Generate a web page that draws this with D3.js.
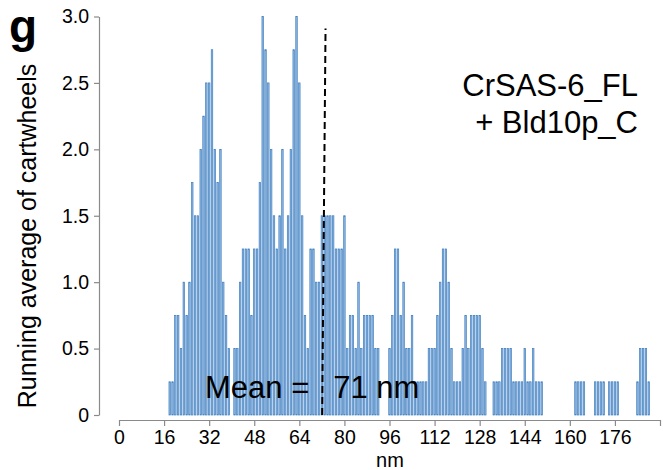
<!DOCTYPE html>
<html>
<head>
<meta charset="utf-8">
<script src="https://cdn.jsdelivr.net/npm/d3@7"></script>
<style>
  body { margin: 0; background: #fff; }
  svg { display: block; font-family: "Liberation Sans", Arial, sans-serif; }
</style>
</head>
<body>
<div id="chart"></div>
<script>
// running average of cartwheels per 1 nm bin, first bin at 18 nm
const binStart = 18;
const binValues = [
  0.25, 0.25, 0.75, 0.75, 0.5, 1.0, 0.75, 1.0, 1.75, 1.5,      // 18-27
  1.5, 2.0, 2.25, 2.5, 2.5, 2.75, 2.0, 1.75, 2.0, 1.0,         // 28-37
  0.75, 0.5, 0, 0.5, 0.5, 1.0, 1.25, 1.25, 1.25, 0.75,         // 38-47
  1.25, 1.25, 1.75, 3.0, 2.75, 2.5, 2.0, 1.5, 1.25, 1.5,       // 48-57
  2.0, 1.25, 1.5, 2.0, 2.75, 3.0, 2.5, 1.5, 0.75, 0.5,         // 58-67
  1.25, 1.25, 1.0, 1.0, 1.5, 1.5, 1.5, 1.5, 1.5, 1.25,         // 68-77
  1.25, 1.25, 1.5, 0.5, 0.75, 0.75, 0.5, 1.0, 0.5, 0.75,       // 78-87
  0.75, 0.75, 0.75, 0.5, 0.5, 0, 0, 0, 0.5, 0.75,              // 88-97
  1.25, 1.25, 0.75, 1.0, 0.5, 0.5, 0.75, 0.25, 0.25, 0.25,     // 98-107
  0.25, 0.25, 0.5, 0.5, 0.5, 0.75, 1.0, 1.25, 1.25, 1.0,       // 108-117
  0.5, 0.25, 0.25, 0.25, 0.5, 0.75, 0.5, 0.75, 0.75, 0.75,     // 118-127
  0.75, 0.5, 0.25, 0, 0, 0.25, 0.25, 0.25, 0.5, 0.5,           // 128-137
  0.5, 0.5, 0.25, 0.25, 0.25, 0.25, 0.5, 0.25, 0.25, 0.5,      // 138-147
  0.25, 0.25, 0.25, 0, 0, 0, 0, 0, 0, 0,                       // 148-157
  0, 0, 0, 0, 0.25, 0.25, 0.25, 0.25, 0, 0,                    // 158-167
  0, 0.25, 0.25, 0.25, 0.25, 0, 0.25, 0.25, 0.25, 0.25,        // 168-177
  0, 0, 0, 0, 0, 0, 0.25, 0.5, 0.5, 0.5,                       // 178-187
  0.25                                                         // 188
];
const xTicks = [0, 16, 32, 48, 64, 80, 96, 112, 128, 144, 160, 176, 192];
const yTicks = [0, 0.5, 1.0, 1.5, 2.0, 2.5, 3.0];
const meanLine = [{ nm: 72.1, v: 0 }, { nm: 73.3, v: 2.91 }];

const width = 663, height = 470;

const svg = d3.select("#chart").append("svg")
  .attr("width", width)
  .attr("height", height);

const x = d3.scaleLinear().domain([0, 192]).range([119, 660]);
const y = d3.scaleLinear().domain([0, 3]).range([415, 16.5]);

const bins = binValues.map((v, i) => ({ nm: binStart + i, v }))
  .filter(d => d.v > 0);

svg.append("g")
  .selectAll("rect")
  .data(bins)
  .join("rect")
  .attr("x", d => x(d.nm) - 0.75)
  .attr("width", 1.5)
  .attr("y", d => y(d.v))
  .attr("height", d => y(0) - y(d.v))
  .attr("fill", "#93b8e0")
  .attr("stroke", "#3f7fc0")
  .attr("stroke-width", 0.7);

// y axis
const yAxis = svg.append("g")
  .attr("transform", "translate(99,0)")
  .call(d3.axisLeft(y).tickValues(yTicks).tickSize(5).tickSizeOuter(0).tickPadding(5)
    .tickFormat(d => d === 0 ? "0" : d3.format(".1f")(d)));

// x axis
const xAxis = svg.append("g")
  .attr("transform", "translate(0,420)")
  .call(d3.axisBottom(x).tickValues(xTicks).tickSize(6).tickSizeOuter(0).tickPadding(4)
    .tickFormat(d => d === 192 ? "" : d));

[yAxis, xAxis].forEach(a => {
  a.select(".domain").attr("stroke", "#8a8a8a").attr("stroke-width", 1.2);
  a.selectAll(".tick line").attr("stroke", "#8a8a8a").attr("stroke-width", 1.2);
  a.selectAll(".tick text").attr("fill", "#000").attr("font-size", 19.5)
    .attr("font-family", "Liberation Sans, Arial, sans-serif");
});

// mean line
svg.append("line")
  .attr("x1", x(meanLine[0].nm)).attr("y1", y(meanLine[0].v))
  .attr("x2", x(meanLine[1].nm)).attr("y2", y(meanLine[1].v))
  .attr("stroke", "#000")
  .attr("stroke-width", 2)
  .attr("stroke-dasharray", "7,4");

svg.append("text")
  .attr("x", 205).attr("y", 398)
  .attr("font-size", 31)
  .text("Mean =")
  .append("tspan")
  .attr("dx", 24)
  .text("71 nm");

// labels
svg.append("text")
  .attr("transform", "translate(36,236) rotate(-90)")
  .attr("text-anchor", "middle")
  .attr("font-size", 25)
  .text("Running average of cartwheels");

svg.append("text")
  .attr("x", 390).attr("y", 467)
  .attr("text-anchor", "middle")
  .attr("font-size", 20)
  .text("nm");

svg.append("text")
  .attr("x", 9).attr("y", 42)
  .attr("font-size", 46)
  .attr("font-weight", "bold")
  .text("g");

const title = svg.append("text")
  .attr("text-anchor", "end")
  .attr("font-size", 31);
title.append("tspan").attr("x", 638).attr("y", 96).text("CrSAS-6_FL");
title.append("tspan").attr("x", 638).attr("y", 133).text("+ Bld10p_C");
</script>
</body>
</html>
